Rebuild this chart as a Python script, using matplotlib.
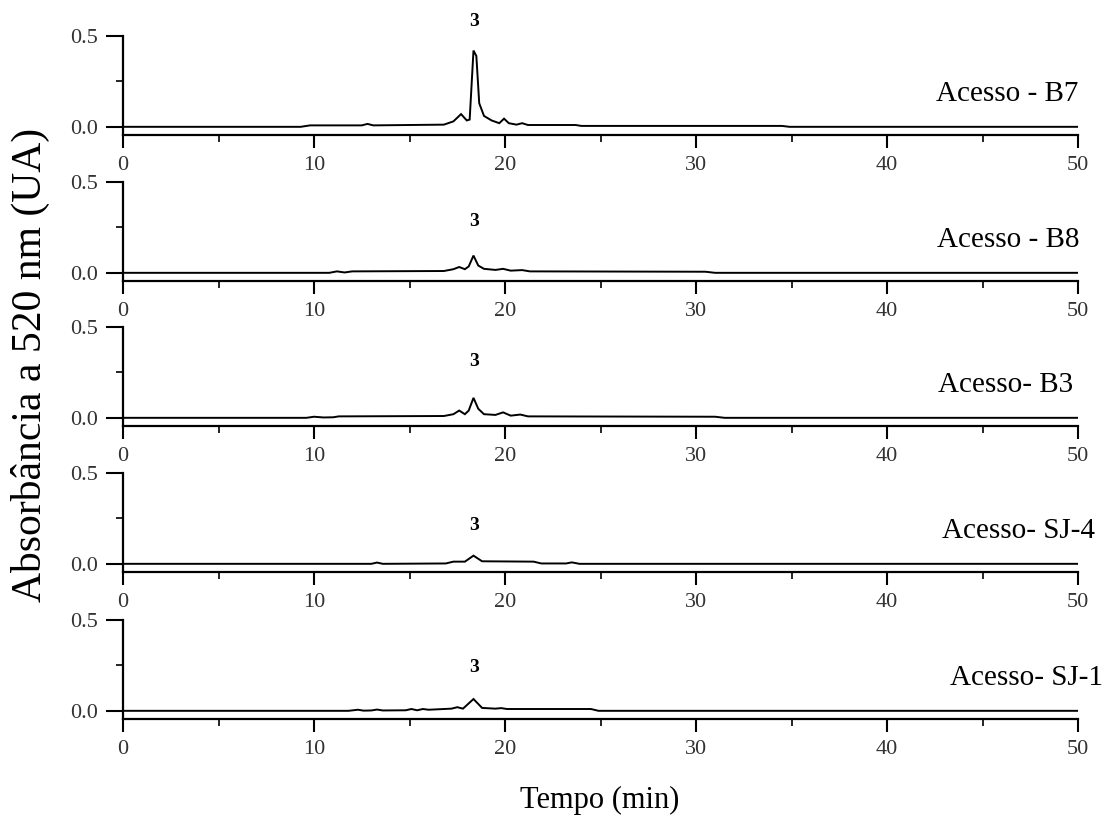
import matplotlib
matplotlib.use("Agg")
import matplotlib.pyplot as plt
from matplotlib.ticker import MultipleLocator

plt.rcParams['font.family'] = ['Liberation Serif', 'DejaVu Serif']

# sample names, top to bottom
samples = ["Acesso - B7", "Acesso - B8", "Acesso- B3", "Acesso- SJ-4", "Acesso- SJ-1"]
peak_label = "3"
peak_time = 18.4

# chromatogram vertices (time in min, absorbance in UA)
t_b7 = [0, 9.3, 9.8, 12.5, 12.8, 13.1, 16.8, 17.3, 17.7, 18.0, 18.15, 18.35, 18.5, 18.65,
        18.9, 19.3, 19.7, 19.95, 20.2, 20.6, 20.9, 21.2, 23.7, 24.0, 34.5, 34.9, 50]
a_b7 = [0, 0, 0.008, 0.008, 0.016, 0.008, 0.012, 0.03, 0.07, 0.035, 0.04, 0.42, 0.39, 0.13,
        0.06, 0.035, 0.02, 0.045, 0.02, 0.012, 0.02, 0.01, 0.01, 0.005, 0.005, 0.0, 0]

t_b8 = [0, 10.8, 11.2, 11.6, 12.0, 16.8, 17.3, 17.6, 17.9, 18.1, 18.35, 18.6, 18.9, 19.5,
        19.9, 20.3, 20.9, 21.3, 30.5, 31.0, 50]
a_b8 = [0, 0, 0.008, 0.002, 0.008, 0.01, 0.02, 0.032, 0.02, 0.035, 0.095, 0.04, 0.022, 0.016,
        0.022, 0.012, 0.015, 0.008, 0.006, 0.0, 0]

t_b3 = [0, 9.6, 10.0, 10.5, 11.0, 11.3, 16.8, 17.3, 17.6, 17.9, 18.1, 18.35, 18.6, 18.9, 19.5,
        19.9, 20.3, 20.8, 21.2, 31.0, 31.5, 50]
a_b3 = [0, 0, 0.006, 0.002, 0.003, 0.008, 0.01, 0.02, 0.04, 0.02, 0.04, 0.11, 0.05, 0.02, 0.016,
        0.03, 0.012, 0.018, 0.008, 0.006, 0.0, 0]

t_sj4 = [0, 13.0, 13.3, 13.6, 16.9, 17.3, 17.9, 18.35, 18.8, 21.5, 21.9, 22.3, 23.2, 23.5,
         23.9, 50]
a_sj4 = [0, 0, 0.007, 0.0, 0.002, 0.012, 0.012, 0.045, 0.014, 0.012, 0.002, 0.002, 0.002,
         0.008, 0.0, 0]

t_sj1 = [0, 11.8, 12.3, 12.6, 13.0, 13.3, 13.6, 14.8, 15.1, 15.4, 15.7, 16.0, 17.2, 17.5,
         17.8, 18.35, 18.8, 19.5, 19.8, 20.1, 24.5, 24.9, 50]
a_sj1 = [0, 0, 0.006, 0.001, 0.002, 0.007, 0.002, 0.003, 0.01, 0.003, 0.01, 0.006, 0.012,
         0.02, 0.012, 0.065, 0.016, 0.012, 0.015, 0.01, 0.01, 0.0, 0]

times = [t_b7, t_b8, t_b3, t_sj4, t_sj1]
absorb = [a_b7, a_b8, a_b3, a_sj4, a_sj1]

# height of the "3" label above each trace, in data units
label_heights = [0.58, 0.28, 0.31, 0.21, 0.24]
# right edge of each sample name, in axes fraction
name_x = [1.0, 1.002, 0.995, 1.018, 1.026]

W, H = 1114, 823
fig = plt.figure(figsize=(W / 100, H / 100), dpi=100)

left, right = 123, 1078
tops = [36, 182, 327, 473, 620]
panel_h = 99
ymin = -0.045

for i, (t, a) in enumerate(zip(times, absorb)):
    bottom_px = tops[i] + panel_h
    ax = fig.add_axes([left / W, 1 - bottom_px / H, (right - left) / W, panel_h / H])
    ax.patch.set_alpha(0)
    ax.plot(t, a, color='black', lw=1.4, solid_joinstyle='miter')
    ax.set_xlim(0, 50)
    ax.set_ylim(ymin, 0.5)
    ax.spines['top'].set_visible(False)
    ax.spines['right'].set_visible(False)
    for s in ['left', 'bottom']:
        ax.spines[s].set_linewidth(1.6)
    ax.xaxis.set_major_locator(MultipleLocator(10))
    ax.xaxis.set_minor_locator(MultipleLocator(5))
    ax.set_yticks([0.0, 0.5])
    ax.set_yticklabels(["0.0", "0.5"])
    ax.yaxis.set_minor_locator(MultipleLocator(0.25))
    ax.tick_params(which='major', direction='out', length=9, width=1.5,
                   labelsize=16, labelcolor='#333333', pad=6)
    ax.tick_params(which='minor', direction='out', length=5, width=1.2)
    ax.tick_params(axis='y', which='major', length=12)
    ax.text(peak_time, label_heights[i], peak_label, ha='center', va='center',
            fontsize=14, fontweight='bold', clip_on=False)
    ax.text(name_x[i], 0.41, samples[i], transform=ax.transAxes, ha='right', va='center',
            fontsize=21, clip_on=False)

fig.text(30 / W, 1 - 365 / H, "Absorbância a 520 nm (UA)", rotation=90,
         ha='center', va='center', fontsize=30)
fig.text(600 / W, 1 - 800 / H, "Tempo (min)", ha='center', va='center', fontsize=22)

fig.savefig("out.png", dpi=100)
